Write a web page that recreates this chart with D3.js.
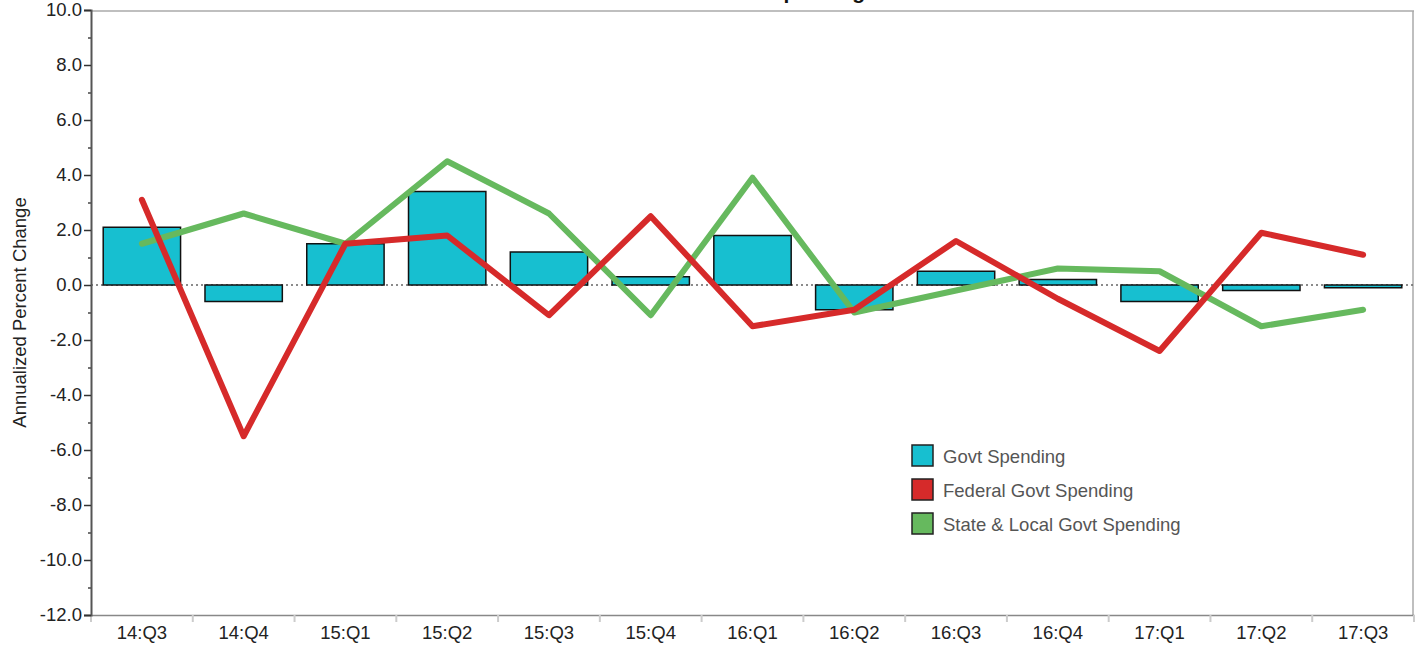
<!DOCTYPE html>
<html>
<head>
<meta charset="utf-8">
<script src="https://cdn.jsdelivr.net/npm/d3@7"></script>
<style>
  body { margin: 0; background: #fff; }
  text { font-family: "Liberation Sans", Arial, sans-serif; }
</style>
</head>
<body>
<div id="chart"></div>
<script>
// data
var quarters = ["14:Q3","14:Q4","15:Q1","15:Q2","15:Q3","15:Q4","16:Q1","16:Q2","16:Q3","16:Q4","17:Q1","17:Q2","17:Q3"];
var govt    = [2.1, -0.6, 1.5, 3.4, 1.2, 0.3, 1.8, -0.9, 0.5, 0.2, -0.6, -0.2, -0.1];
var federal = [3.1, -5.5, 1.5, 1.8, -1.1, 2.5, -1.5, -0.9, 1.6, -0.5, -2.4, 1.9, 1.1];
var stateLocal = [1.5, 2.6, 1.5, 4.5, 2.6, -1.1, 3.9, -1.0, -0.2, 0.6, 0.5, -1.5, -0.9];
var majorTicks = [-12, -10, -8, -6, -4, -2, 0, 2, 4, 6, 8, 10];
var minorTicks = [-11, -9, -7, -5, -3, -1, 1, 3, 5, 7, 9];
var legendNames = ["Govt Spending", "Federal Govt Spending", "State & Local Govt Spending"];

var colors = { govt: "#17bfd0", federal: "#d62a2a", state: "#66b95e" };

var W = 1424, H = 646;
var margin = {top: 10, right: 10, bottom: 31, left: 91},
    width = W - margin.left - margin.right,
    height = H - margin.top - margin.bottom;

var root = d3.select("#chart").append("svg")
  .attr("width", W)
  .attr("height", H);

// title (mostly cut off at the top, as in the picture)
root.append("text")
  .attr("x", margin.left + width / 2)
  .attr("y", -1)
  .attr("text-anchor", "middle")
  .style("font-size", "21px")
  .style("font-weight", "bold")
  .attr("fill", "#111")
  .text("Government Spending");

var svg = root.append("g")
  .attr("transform", "translate(" + margin.left + "," + margin.top + ")");

var x = d3.scaleBand()
  .domain(quarters)
  .range([0, width])
  .paddingInner(0.24)
  .paddingOuter(0.12);

var y = d3.scaleLinear()
  .domain([-12, 10])
  .range([height, 0]);

// frame top & right
svg.append("line")
  .attr("x1", 0).attr("x2", width)
  .attr("y1", 1).attr("y2", 1)
  .attr("stroke", "#aaa").attr("stroke-width", 1.5);
svg.append("line")
  .attr("x1", width - 1).attr("x2", width - 1)
  .attr("y1", 1).attr("y2", height)
  .attr("stroke", "#aaa").attr("stroke-width", 1.5);

// zero line
svg.append("line")
  .attr("x1", 0).attr("x2", width)
  .attr("y1", y(0)).attr("y2", y(0))
  .attr("stroke", "#666")
  .attr("stroke-width", 1.5)
  .attr("stroke-dasharray", "2,3");

// bars
svg.selectAll(".bar")
  .data(govt)
  .enter().append("rect")
  .attr("class", "bar")
  .attr("x", function(d, i) { return x(quarters[i]); })
  .attr("width", x.bandwidth())
  .attr("y", function(d) { return y(Math.max(0, d)); })
  .attr("height", function(d) { return Math.abs(y(d) - y(0)); })
  .attr("fill", colors.govt)
  .attr("stroke", "#111")
  .attr("stroke-width", 1.5);

var line = d3.line()
  .x(function(d, i) { return x(quarters[i]) + x.bandwidth() / 2; })
  .y(function(d) { return y(d); });

svg.append("path")
  .datum(stateLocal)
  .attr("d", line)
  .attr("fill", "none")
  .attr("stroke", colors.state)
  .attr("stroke-width", 6)
  .attr("stroke-linejoin", "round")
  .attr("stroke-linecap", "round");

svg.append("path")
  .datum(federal)
  .attr("d", line)
  .attr("fill", "none")
  .attr("stroke", colors.federal)
  .attr("stroke-width", 6)
  .attr("stroke-linejoin", "round")
  .attr("stroke-linecap", "round");

// x axis
var xAxis = svg.append("g")
  .attr("transform", "translate(0," + height + ")")
  .call(d3.axisBottom(x).tickSize(0).tickPadding(11));
xAxis.select(".domain").attr("stroke", "#888").attr("stroke-width", 1.5);
xAxis.selectAll("text")
  .style("font-size", "18.5px")
  .attr("fill", "#222");

// separators between quarters
var step = x.step();
svg.selectAll(".sep")
  .data(d3.range(quarters.length + 1))
  .enter().append("line")
  .attr("class", "sep")
  .attr("x1", function(i) { return i * step; })
  .attr("x2", function(i) { return i * step; })
  .attr("y1", height).attr("y2", height + 7)
  .attr("stroke", "#ccc").attr("stroke-width", 2);

// y axis
var yMinor = svg.append("g")
  .call(d3.axisLeft(y).tickValues(minorTicks).tickSize(3).tickFormat(""));
yMinor.select(".domain").remove();
yMinor.selectAll("line").attr("stroke", "#444").attr("stroke-width", 1.5);

var yAxis = svg.append("g")
  .call(d3.axisLeft(y).tickValues(majorTicks).tickSize(7).tickPadding(2)
    .tickFormat(function(d) { return d.toFixed(1); }));
yAxis.select(".domain")
  .attr("stroke", "#555").attr("stroke-width", 2);
yAxis.selectAll("line").attr("stroke", "#333").attr("stroke-width", 1.5);
yAxis.selectAll("text")
  .style("font-size", "18.5px")
  .attr("fill", "#222");

// y title
root.append("text")
  .attr("transform", "translate(26," + (margin.top + height / 2) + ") rotate(-90)")
  .attr("text-anchor", "middle")
  .style("font-size", "18.5px")
  .attr("fill", "#222")
  .text("Annualized Percent Change");

// legend
var legend = root.append("g").attr("transform", "translate(912,445)");
var legendColors = [colors.govt, colors.federal, colors.state];
legendNames.forEach(function(name, i) {
  var g = legend.append("g").attr("transform", "translate(0," + (i * 34) + ")");
  g.append("rect")
    .attr("width", 21).attr("height", 21)
    .attr("fill", legendColors[i])
    .attr("stroke", "#222").attr("stroke-width", 1.5);
  g.append("text")
    .attr("x", 31).attr("y", 11)
    .attr("dy", "0.36em")
    .style("font-size", "18.5px")
    .attr("fill", "#555")
    .text(name);
});
</script>
</body>
</html>
